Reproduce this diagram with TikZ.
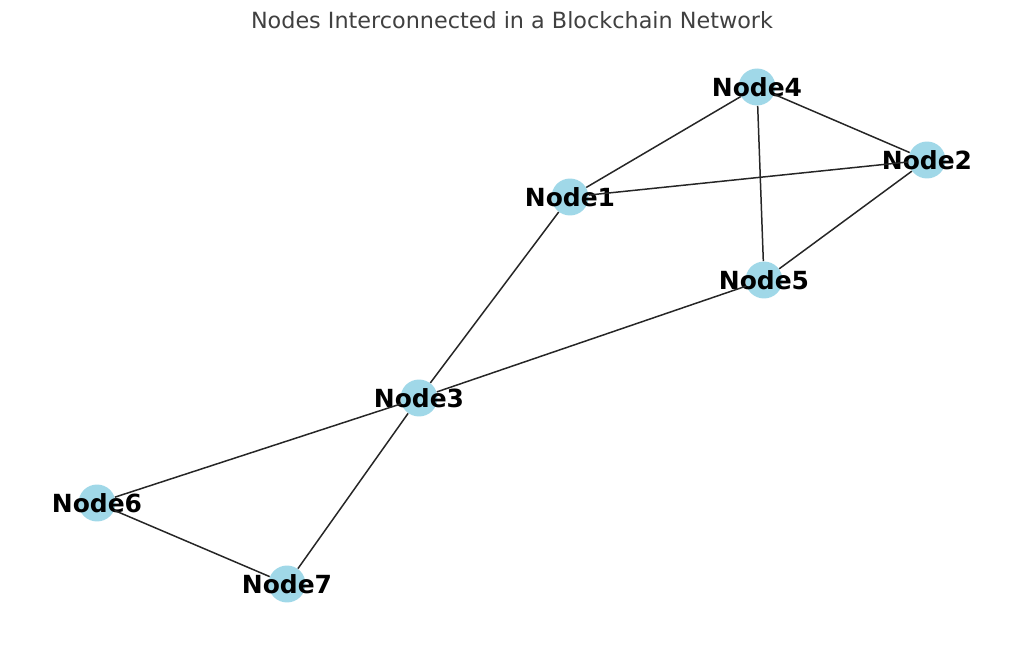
\documentclass[tikz,border=0pt]{standalone}
\usepackage{fontspec}
\setmainfont{DejaVu Sans}
\usepackage{tikz}
\definecolor{nodeblue}{RGB}{160,216,232}
\definecolor{titlegray}{RGB}{64,64,64}

\begin{document}
\begin{tikzpicture}[x=0.02cm,y=-0.02cm,
	peer/.style={circle,fill=nodeblue,minimum size=0.74cm,inner sep=0pt,
		font=\fontsize{14.2}{16}\selectfont\bfseries,text=black},
	link/.style={draw=black!85,line width=0.85pt}]
	\useasboundingbox (0,0) rectangle (1024,648);
	\node[text=titlegray,font=\fontsize{12.7}{15}\selectfont] (title) at (512,20) {Nodes Interconnected in a Blockchain Network};
	% peers
	\node[peer] (n1) at (570,197) {\makebox[0pt]{Node1}};
	\node[peer] (n2) at (927,160) {\makebox[0pt]{Node2}};
	\node[peer] (n3) at (419,398) {\makebox[0pt]{Node3}};
	\node[peer] (n4) at (757,87) {\makebox[0pt]{Node4}};
	\node[peer] (n5) at (764,280) {\makebox[0pt]{Node5}};
	\node[peer] (n6) at (97,503) {\makebox[0pt]{Node6}};
	\node[peer] (n7) at (287,584) {\makebox[0pt]{Node7}};
	% links
	\path[link] (n4) -- (n1)
		(n4) -- (n2)
		(n4) -- (n5)
		(n1) -- (n2)
		(n2) -- (n5)
		(n1) -- (n3)
		(n5) -- (n3)
		(n3) -- (n6)
		(n3) -- (n7)
		(n6) -- (n7);
\end{tikzpicture}
\end{document}
